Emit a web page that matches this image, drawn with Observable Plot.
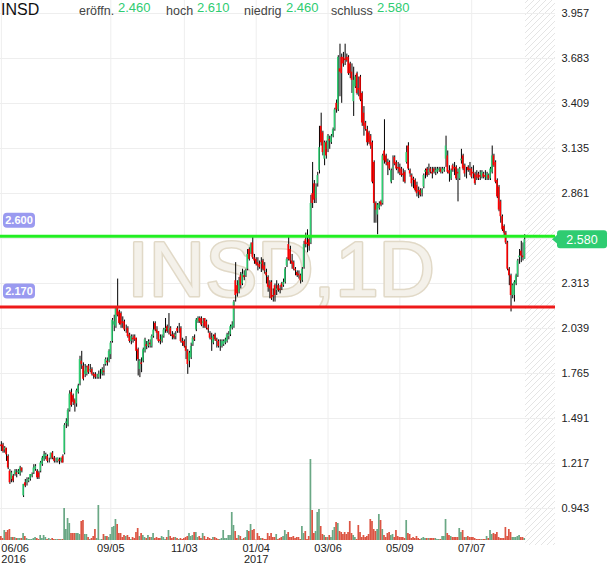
<!DOCTYPE html>
<html>
<head>
<meta charset="utf-8">
<script src="https://cdn.jsdelivr.net/npm/d3@7"></script>
<script src="https://cdn.jsdelivr.net/npm/@observablehq/plot@0.6"></script>
<style>
  html, body { margin: 0; padding: 0; background: #fff; }
  #wrap { position: relative; width: 610px; height: 568px; overflow: hidden; background: #fff; }
  #wrap svg { position: absolute; left: 0; top: 0; }
</style>
</head>
<body>
<div id="wrap"></div>
<script>
// ---------- data ----------
const ticker = "INSD";
const watermark = "INSD,1D";
// [open, high, low, close] per trading day, 06/06/2016 .. 08/2017
const candles = [
[1.33,1.35,1.29,1.32],[1.33,1.34,1.28,1.29],[1.30,1.32,1.28,1.31],[1.31,1.31,1.23,1.27],[1.26,1.27,1.18,1.19],[1.17,1.18,1.09,1.10],[1.12,1.17,1.10,1.16],[1.14,1.15,1.10,1.11],[1.15,1.18,1.14,1.17],[1.16,1.18,1.13,1.15],
[1.16,1.18,1.15,1.17],[1.15,1.20,1.14,1.19],[1.19,1.19,1.16,1.17],[1.02,1.09,1.01,1.09],[1.10,1.12,1.07,1.08],[1.10,1.13,1.08,1.11],[1.11,1.13,1.10,1.12],[1.12,1.15,1.11,1.15],[1.14,1.16,1.13,1.15],[1.16,1.21,1.15,1.19],
[1.18,1.21,1.17,1.20],[1.17,1.18,1.12,1.13],[1.16,1.17,1.12,1.13],[1.17,1.23,1.16,1.22],[1.21,1.26,1.20,1.25],[1.24,1.29,1.23,1.27],[1.26,1.28,1.24,1.27],[1.26,1.27,1.22,1.23],[1.24,1.25,1.22,1.24],[1.25,1.28,1.24,1.28],
[1.28,1.29,1.24,1.25],[1.25,1.26,1.22,1.23],[1.24,1.25,1.22,1.24],[1.23,1.25,1.22,1.25],[1.24,1.25,1.21,1.23],[1.23,1.25,1.22,1.25],[1.26,1.27,1.22,1.22],[1.28,1.46,1.27,1.45],[1.46,1.49,1.43,1.47],[1.45,1.55,1.44,1.54],
[1.54,1.66,1.53,1.64],[1.65,1.67,1.56,1.57],[1.63,1.64,1.57,1.59],[1.60,1.61,1.53,1.58],[1.58,1.67,1.56,1.66],[1.65,1.70,1.64,1.69],[1.70,1.87,1.69,1.85],[1.84,1.90,1.79,1.82],[1.81,1.83,1.72,1.73],[1.76,1.82,1.74,1.78],
[1.76,1.81,1.75,1.80],[1.81,1.82,1.76,1.77],[1.78,1.82,1.77,1.79],[1.79,1.80,1.75,1.76],[1.76,1.77,1.73,1.75],[1.76,1.77,1.73,1.74],[1.75,1.76,1.73,1.75],[1.74,1.78,1.73,1.76],[1.76,1.79,1.73,1.76],[1.76,1.80,1.75,1.79],
[1.78,1.82,1.75,1.77],[1.82,1.86,1.81,1.85],[1.84,1.86,1.81,1.83],[1.84,1.91,1.83,1.90],[1.88,1.96,1.85,1.95],[1.96,2.10,1.95,2.09],[2.06,2.12,2.02,2.08],[2.05,2.17,2.04,2.16],[2.16,2.34,2.11,2.12],[2.14,2.15,2.06,2.07],
[2.13,2.14,2.04,2.06],[2.08,2.11,2.04,2.07],[2.08,2.09,2.02,2.03],[2.04,2.06,2.01,2.04],[2.04,2.05,1.98,1.99],[2.00,2.01,1.95,1.96],[1.96,2.00,1.94,1.99],[1.98,2.00,1.95,1.97],[1.99,2.00,1.96,1.97],[1.98,1.98,1.84,1.90],
[1.91,1.92,1.75,1.85],[1.79,1.85,1.74,1.84],[1.83,1.86,1.77,1.82],[1.84,1.92,1.83,1.91],[1.90,1.98,1.89,1.97],[1.94,1.96,1.91,1.93],[1.93,1.97,1.92,1.96],[1.95,1.97,1.92,1.94],[1.93,2.00,1.92,1.99],[1.99,2.08,1.98,2.03],
[2.07,2.08,2.02,2.03],[2.03,2.05,1.97,2.01],[2.02,2.02,1.95,1.96],[1.97,2.00,1.94,1.96],[1.96,2.00,1.95,1.99],[1.99,2.04,1.98,2.03],[2.03,2.10,2.01,2.04],[2.05,2.06,2.01,2.02],[2.03,2.13,2.00,2.04],[2.04,2.05,1.99,2.00],
[2.00,2.02,1.97,1.99],[2.00,2.01,1.97,1.98],[1.99,2.02,1.97,2.00],[2.04,2.05,2.01,2.02],[2.03,2.07,2.01,2.03],[2.04,2.05,1.95,1.96],[1.96,1.98,1.93,1.95],[1.96,1.97,1.92,1.93],[1.93,1.99,1.85,1.90],[1.90,1.91,1.76,1.82],
[1.84,1.90,1.80,1.89],[1.86,1.95,1.85,1.93],[1.94,1.99,1.93,1.98],[1.98,2.00,1.96,1.97],[2.03,2.10,2.02,2.09],[2.08,2.11,2.07,2.10],[2.10,2.11,2.07,2.08],[2.10,2.11,2.05,2.06],[2.07,2.10,2.04,2.08],[2.10,2.10,2.04,2.05],
[2.08,2.09,2.03,2.04],[2.04,2.06,2.01,2.03],[2.01,2.02,1.97,1.98],[1.98,2.01,1.90,1.97],[1.95,2.00,1.94,1.99],[2.00,2.01,1.96,1.97],[1.97,1.98,1.92,1.96],[1.96,1.97,1.92,1.93],[1.94,1.97,1.90,1.94],[1.93,1.97,1.92,1.96],
[1.94,1.97,1.93,1.96],[1.95,1.98,1.94,1.97],[1.96,2.01,1.95,2.00],[1.99,2.02,1.97,2.00],[2.00,2.06,1.99,2.05],[2.04,2.08,2.03,2.06],[2.05,2.21,2.04,2.20],[2.33,2.44,2.20,2.24],[2.30,2.33,2.23,2.25],[2.26,2.35,2.25,2.33],
[2.36,2.38,2.28,2.30],[2.31,2.40,2.30,2.37],[2.36,2.39,2.33,2.35],[2.36,2.40,2.35,2.39],[2.40,2.52,2.39,2.49],[2.52,2.53,2.45,2.46],[2.50,2.56,2.49,2.55],[2.56,2.60,2.46,2.47],[2.47,2.49,2.43,2.45],[2.46,2.47,2.42,2.43],
[2.44,2.47,2.39,2.42],[2.43,2.45,2.40,2.41],[2.43,2.47,2.38,2.44],[2.45,2.46,2.39,2.40],[2.42,2.44,2.37,2.39],[2.38,2.40,2.31,2.36],[2.35,2.36,2.26,2.29],[2.30,2.33,2.22,2.28],[2.32,2.33,2.21,2.22],[2.24,2.28,2.20,2.23],
[2.30,2.31,2.20,2.24],[2.27,2.33,2.24,2.28],[2.30,2.31,2.26,2.27],[2.28,2.30,2.25,2.27],[2.31,2.32,2.27,2.29],[2.30,2.34,2.29,2.32],[2.32,2.41,2.31,2.40],[2.42,2.47,2.41,2.46],[2.55,2.60,2.45,2.46],[2.52,2.54,2.43,2.45],
[2.45,2.49,2.40,2.43],[2.44,2.45,2.39,2.40],[2.40,2.41,2.36,2.39],[2.38,2.39,2.35,2.36],[2.37,2.39,2.34,2.36],[2.36,2.37,2.31,2.33],[2.33,2.41,2.32,2.40],[2.41,2.57,2.40,2.55],[2.58,2.62,2.53,2.55],[2.56,2.64,2.50,2.55],
[2.58,2.60,2.51,2.54],[2.56,2.85,2.55,2.80],[2.86,3.05,2.77,2.80],[2.92,2.94,2.80,2.82],[2.83,2.92,2.80,2.90],[2.92,2.99,2.90,2.97],[3.00,3.27,2.98,3.14],[3.27,3.35,3.15,3.17],[3.23,3.24,3.09,3.11],[3.07,3.18,3.03,3.17],
[3.17,3.18,3.07,3.09],[3.13,3.22,3.11,3.21],[3.19,3.21,3.13,3.18],[3.17,3.22,3.16,3.21],[3.21,3.26,3.20,3.25],[3.25,3.38,3.24,3.37],[3.41,3.43,3.35,3.37],[3.37,3.70,3.36,3.69],[3.62,3.77,3.45,3.60],[3.69,3.71,3.41,3.59],
[3.69,3.72,3.63,3.65],[3.68,3.77,3.64,3.67],[3.69,3.71,3.66,3.67],[3.69,3.70,3.58,3.59],[3.65,3.66,3.56,3.59],[3.60,3.65,3.47,3.55],[3.42,3.63,3.33,3.55],[3.51,3.58,3.50,3.57],[3.59,3.60,3.46,3.47],[3.50,3.57,3.45,3.49],
[3.57,3.58,3.42,3.43],[3.47,3.48,3.27,3.29],[3.35,3.39,3.21,3.27],[3.29,3.30,3.24,3.25],[3.25,3.27,3.15,3.17],[3.23,3.24,3.16,3.17],[3.21,3.22,3.13,3.15],[3.17,3.18,2.92,2.93],[3.05,3.06,2.68,2.80],[2.80,2.81,2.68,2.76],
[2.73,2.80,2.61,2.79],[2.77,2.81,2.76,2.80],[2.81,2.82,2.78,2.79],[2.80,3.10,2.79,3.09],[3.12,3.31,3.04,3.06],[3.09,3.10,3.03,3.05],[3.05,3.07,2.97,3.03],[3.05,3.06,3.00,3.01],[2.93,3.01,2.92,3.00],[3.01,3.09,2.94,3.02],
[3.08,3.09,3.03,3.04],[3.05,3.06,3.00,3.01],[3.02,3.05,2.98,3.01],[3.02,3.04,2.97,2.99],[3.01,3.02,2.96,2.97],[2.98,3.01,2.93,2.97],[2.99,3.00,2.92,2.93],[3.05,3.15,3.04,3.11],[3.15,3.17,3.00,3.01],[3.00,3.01,2.96,2.98],
[2.97,2.98,2.90,2.92],[2.95,2.96,2.89,2.94],[2.94,2.95,2.87,2.88],[2.91,2.93,2.84,2.86],[2.88,2.90,2.83,2.87],[2.88,2.89,2.84,2.85],[2.86,2.89,2.84,2.88],[2.90,2.98,2.89,2.97],[2.99,3.01,2.95,3.00],[3.01,3.02,2.96,2.97],
[2.99,3.04,2.97,3.00],[3.01,3.02,2.98,2.99],[2.99,3.02,2.95,2.98],[3.01,3.02,2.98,2.99],[2.99,3.02,2.97,3.00],[2.99,3.02,2.98,3.01],[3.00,3.02,2.99,3.01],[3.01,3.02,2.98,2.99],[2.99,3.02,2.98,3.01],[3.00,3.02,2.99,3.01],
[3.07,3.21,3.02,3.15],[3.09,3.12,2.98,2.99],[3.00,3.03,2.93,2.98],[2.95,3.01,2.94,3.00],[3.03,3.04,2.99,3.00],[3.02,3.05,2.97,3.01],[3.02,3.03,2.94,2.95],[2.99,3.01,2.81,2.98],[2.95,3.02,2.94,3.01],[3.06,3.13,3.04,3.07],
[3.09,3.10,3.00,3.01],[3.03,3.04,2.96,2.98],[3.00,3.02,2.95,3.00],[3.02,3.03,2.99,3.00],[3.01,3.05,2.97,3.00],[3.01,3.02,2.95,2.96],[2.99,3.03,2.95,2.98],[2.98,2.99,2.91,2.92],[2.97,3.00,2.94,2.96],[2.98,2.99,2.94,2.95],
[2.97,3.00,2.94,2.96],[2.96,3.00,2.95,2.99],[2.98,2.99,2.95,2.96],[2.97,3.00,2.94,2.96],[2.95,2.99,2.94,2.98],[2.97,2.98,2.94,2.95],[2.95,3.02,2.94,3.01],[2.99,3.15,2.98,3.09],[3.09,3.10,3.02,3.03],[3.05,3.06,2.92,2.93],
[2.94,2.95,2.83,2.84],[2.90,2.91,2.75,2.76],[2.81,2.82,2.68,2.72],[2.72,2.73,2.63,2.64],[2.66,2.67,2.60,2.62],[2.62,2.63,2.55,2.56],[2.56,2.57,2.39,2.40],[2.40,2.41,2.30,2.36],[2.36,2.37,2.14,2.24],[2.24,2.31,2.22,2.30],
[2.24,2.33,2.20,2.32],[2.31,2.37,2.30,2.36],[2.36,2.46,2.35,2.45],[2.47,2.52,2.43,2.48],[2.51,2.57,2.44,2.48],[2.48,2.56,2.45,2.47],[2.46,2.61,2.46,2.58]
];
// daily volume (thousand shares, estimated)
const volumes = [
4,2,10,8,10,11,3,3,3,2, 2,2,2,7,4,2,1,1,1,2, 3,2,1,5,2,5,3,1,2,1, 2,1,1,1,1,1,1,32,11,22,
17,7,7,7,7,7,6,19,20,6, 6,3,1,2,4,11,2,35,0.5,1, 6,4,4,3,6,13,14,21,16,7, 7,3,5,4,5,3,1,3,2,8,
12,4,7,5,3,2,5,3,3,7, 2,3,2,2,4,3,1,3,10,4, 2,3,3,2,1,2,1,2,3,4, 7,4,5,8,8,3,4,2,7,4,
1,3,2,1,3,3,2,1,1,2, 10,2,2,5,5,28,15,9,2,5, 4,1,2,3,10,9,16,10,11,0.5, 7,4,2,2,1,1,7,4,7,3,
3,6,1,2,3,4,10,6,8,3, 3,4,2,3,3,1,14,7,9,1, 4,81,30,7,9,28,31,14,6,5, 3,3,5,3,10,13,18,17,9,8,
6,8,6,8,19,7,5,3,1,15, 8,3,5,3,4,6,21,19,11,9, 11,26,20,11,5,3,7,8,5,6, 3,10,4,3,3,3,2,20,7,6,
2,3,2,4,2,1,2,3,2,2, 2,2,2,2,2,1,1,1,4,4, 21,7,5,4,3,3,3,3,12,8, 10,3,3,4,3,3,3,2,1,1,
1,1,1,1,4,2,10,6,7,6, 8,3,2,2,2,13,4,11,8,3, 3,3,4,5,3,3,2
];
const tickIndex = [0, 64, 107, 149, 191, 233, 275];
const tickLabels = ["06/06\n2016", "09/05", "11/03", "01/04\n2017", "03/06", "05/09", "07/07"];
const yTicks = [0.943, 1.217, 1.491, 1.765, 2.039, 2.313, 2.587, 2.861, 3.135, 3.409, 3.683, 3.957];
const levels = [2.600, 2.170];
const levelColors = ["#22ee22", "#ee1a1a"];
const headerLabels = ["eröffn.", "hoch", "niedrig", "schluss"];

// ---------- chart ----------
const FONT = '"Liberation Sans", Arial, Helvetica, sans-serif';
const UP = "#2ecc71", DOWN = "#ff0000";
const rows = candles.map(([o, h, l, c], i) => ({ i, o, h, l, c, up: c >= o, v: volumes[i] ?? 0 }));
const N = rows.length;
const last = rows[N - 1];
const xDomain = [-0.5, 324];
const yDomain = [0.718, 4.036];
const tickLabel = d => tickLabels[tickIndex.indexOf(d)];
// the last-price badge covers the axis label next to it
const yLabelTicks = yTicks.filter(t => Math.abs(t - last.c) > 0.05);

const price = Plot.plot({
  width: 610, height: 568,
  marginTop: 0, marginRight: 55, marginBottom: 23, marginLeft: 0,
  style: { background: "transparent", fontFamily: FONT, fontSize: "11px", color: "#222" },
  x: { domain: xDomain, axis: null },
  y: { domain: yDomain, axis: null },
  marks: [
    Plot.rect([0], { x1: () => N - 0.5, x2: () => xDomain[1], y1: () => yDomain[0], y2: () => yDomain[1], fill: "url(#hatch)" }),
    Plot.gridX(tickIndex, { stroke: "#eeeeee", strokeOpacity: 1 }),
    Plot.gridY(yTicks, { stroke: "#eeeeee", strokeOpacity: 1 }),
    Plot.text([watermark], { text: d => d, frameAnchor: "middle", dx: 3, dy: -2, fontSize: 78,
      fontFamily: FONT, fill: "#f4f1ea", stroke: "#e1d9c7", strokeWidth: 3 }),
    Plot.ruleX(rows, { x: "i", y1: "l", y2: "h", stroke: "#000", strokeWidth: 1 }),
    Plot.rect(rows.filter(d => d.up), { x1: d => d.i - 0.45, x2: d => d.i + 0.45, y1: "o", y2: "c", fill: UP }),
    Plot.rect(rows.filter(d => !d.up), { x1: d => d.i - 0.45, x2: d => d.i + 0.45, y1: "o", y2: "c", fill: DOWN }),
    Plot.ruleY([levels[0]], { stroke: levelColors[0], strokeWidth: 3 }),
    Plot.ruleY([levels[1]], { stroke: levelColors[1], strokeWidth: 3 }),
    Plot.axisY(yLabelTicks, { anchor: "right", tickSize: 0, tickPadding: 6, tickFormat: d => d.toFixed(3), fontSize: 11, fill: "#222" })
  ]
});

const volume = Plot.plot({
  width: 610, height: 568,
  marginTop: 0, marginRight: 55, marginBottom: 28, marginLeft: 0,
  style: { background: "transparent", fontFamily: FONT, fontSize: "11px", color: "#222" },
  x: { domain: xDomain, axis: null },
  y: { domain: [0, 540], axis: null },
  marks: [
    Plot.rectY(rows.filter(d => d.up), { x1: d => d.i - 0.5, x2: d => d.i + 0.5, y: "v", fill: "#6aa885" }),
    Plot.rectY(rows.filter(d => !d.up), { x1: d => d.i - 0.5, x2: d => d.i + 0.5, y: "v", fill: "#dc5543" }),
    Plot.axisX(tickIndex.slice(0, 1), { anchor: "bottom", tickSize: 0, tickPadding: 4, textAnchor: "start", tickFormat: tickLabel, fontSize: 11, fill: "#222" }),
    Plot.axisX(tickIndex.slice(1), { anchor: "bottom", tickSize: 0, tickPadding: 4, tickFormat: tickLabel, fontSize: 11, fill: "#222" })
  ]
});

// ---------- decorations ----------
const svgP = d3.select(price);
const ys = price.scale("y");
const defs = svgP.insert("defs", ":first-child");
const pat = defs.append("pattern").attr("id", "hatch").attr("patternUnits", "userSpaceOnUse")
  .attr("width", 6).attr("height", 6);
pat.append("path").attr("d", "M-1,1 l2,-2 M0,6 l6,-6 M5,7 l2,-2")
  .attr("stroke", "#e4e4e4").attr("stroke-width", 1);

levels.forEach(v => {
  const y = ys.apply(v);
  const g = svgP.append("g");
  g.append("rect").attr("x", 3).attr("y", y - 23).attr("width", 32).attr("height", 15)
    .attr("rx", 4).attr("fill", "#9a9af0");
  g.append("text").attr("x", 19).attr("y", y - 15.5).attr("text-anchor", "middle")
    .attr("dominant-baseline", "central").attr("fill", "#fff").attr("font-weight", "bold")
    .attr("font-size", 11).attr("font-family", FONT).text(v.toFixed(3));
});

const yl = ys.apply(last.c);
const gl = svgP.append("g");
gl.append("path").attr("d", `M552,${yl} L559,${yl - 6} L559,${yl + 6} Z`).attr("fill", UP);
gl.append("rect").attr("x", 557).attr("y", yl - 9).attr("width", 50).attr("height", 18)
  .attr("rx", 3).attr("fill", UP);
gl.append("text").attr("x", 582).attr("y", yl + 0.5).attr("text-anchor", "middle")
  .attr("dominant-baseline", "central").attr("fill", "#fff").attr("font-size", 12.5)
  .attr("font-family", FONT).text(last.c.toFixed(3));

// header (ticker + last OHLC)
const hdr = svgP.append("g").attr("font-family", FONT).attr("text-anchor", "start");
hdr.append("text").attr("x", 1).attr("y", 15).attr("text-anchor", "start").attr("font-size", 16).attr("fill", "#111").text(ticker);
const hdrValues = [last.o, last.h, last.l, last.c];
const labelX = [79, 166, 244, 331];
const valueX = [118, 197, 286, 377];
headerLabels.forEach((lab, k) => {
  hdr.append("text").attr("x", labelX[k]).attr("y", 15).attr("text-anchor", "start").attr("font-size", 12.5).attr("fill", "#444").text(lab);
  hdr.append("text").attr("x", valueX[k]).attr("y", 12).attr("text-anchor", "start").attr("font-size", 13).attr("fill", UP).text(hdrValues[k].toFixed(3));
});

const wrap = document.getElementById("wrap");
wrap.appendChild(price);
wrap.appendChild(volume);
</script>
</body>
</html>
